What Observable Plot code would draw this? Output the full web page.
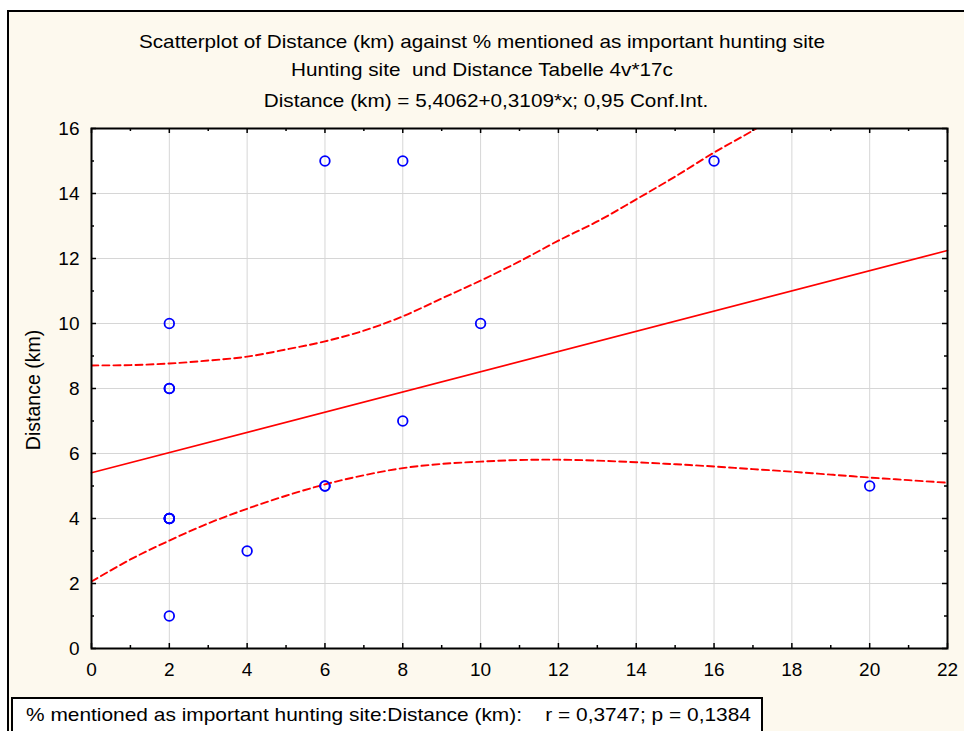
<!DOCTYPE html>
<html><head><meta charset="utf-8">
<script src="https://cdn.jsdelivr.net/npm/d3@7"></script>
<script src="https://cdn.jsdelivr.net/npm/@observablehq/plot@0.6"></script>
<style>
body{margin:0;background:#fff;font-family:"Liberation Sans",Arial,sans-serif;}
#wrap{position:relative;width:964px;height:731px;overflow:hidden;}
#frame{position:absolute;left:7px;top:10px;width:980px;height:760px;background:#fdf9ee;border-left:2px solid #000;border-top:2px solid #000;}
.t{position:absolute;left:0;width:964px;text-align:center;font-size:19px;color:#000;line-height:1;white-space:pre;transform:scaleX(1.09);transform-origin:482px 0;}
#chart{position:absolute;left:0;top:0;}
#ylab{position:absolute;left:33px;top:390px;transform:translate(-50%,-50%) rotate(-90deg);font-size:19.5px;white-space:nowrap;}
#cap{position:absolute;left:11px;top:697px;width:752px;height:50px;background:#fff;border:2px solid #000;box-sizing:border-box;}
#cap span{position:absolute;left:13px;top:5px;font-size:19px;white-space:pre;transform:scaleX(1.1);transform-origin:0 0;}
</style></head>
<body>
<div id="wrap">
  <div id="frame"></div>
  <div class="t" id="t1" style="top:32px">Scatterplot of Distance (km) against % mentioned as important hunting site</div>
  <div class="t" id="t2" style="top:60px">Hunting site  und Distance Tabelle 4v*17c</div>
  <div class="t" id="t3" style="top:91px;left:4px">Distance (km) = 5,4062+0,3109*x; 0,95 Conf.Int.</div>
  <div id="chart"></div>
  <div id="ylab">Distance (km)</div>
  <div id="cap"><span>% mentioned as important hunting site:Distance (km):    r = 0,3747; p = 0,1384</span></div>
</div>
<script>
// observed points (% mentioned, distance km)
const pointX = [2, 2, 2, 2, 2, 2, 2, 4, 6, 6, 6, 8, 8, 10, 16, 20, 2];
const pointY = [10, 8, 8, 4, 4, 4, 1, 3, 15, 5, 5, 15, 7, 10, 15, 5, 4];

// regression line
const intercept = 5.4062;
const slope = 0.3109;

// 0.95 confidence band
const bandX = [0, 1, 2, 3, 4, 5, 6, 7, 8, 9, 10, 11, 12, 13, 14, 15, 16, 17, 18, 19, 20, 21, 22];
const upperY = [8.71, 8.72, 8.77, 8.86, 8.98, 9.2, 9.45, 9.78, 10.22, 10.77, 11.32, 11.91, 12.55, 13.14, 13.82, 14.52, 15.26, 15.94, 16.7, 17.5, 18.3, 19.1, 19.9];
const lowerY = [2.06, 2.74, 3.32, 3.85, 4.3, 4.7, 5.05, 5.33, 5.55, 5.68, 5.75, 5.8, 5.81, 5.78, 5.73, 5.67, 5.6, 5.52, 5.44, 5.35, 5.26, 5.18, 5.1];

// ticks
const xTicks = [0, 2, 4, 6, 8, 10, 12, 14, 16, 18, 20, 22];
const xMinor = [1, 3, 5, 7, 9, 11, 13, 15, 17, 19, 21];
const yTicks = [0, 2, 4, 6, 8, 10, 12, 14, 16];
const yMinor = [1, 3, 5, 7, 9, 11, 13, 15];

const W = 964, H = 731, mL = 91, mR = 17, mT = 128, mB = 83;
const pW = W - mL - mR, pH = H - mT - mB;

const points = pointX.map((x, i) => ({x, y: pointY[i]}));
const upper = bandX.map((x, i) => ({x, y: upperY[i]}));
const lower = bandX.map((x, i) => ({x, y: lowerY[i]}));
const xDomain = [0, 22];
const fit = xDomain.map(x => ({x, y: intercept + slope * x}));

const red = "#ff0000";
const chart = Plot.plot({
  width: W, height: H,
  marginLeft: mL, marginRight: mR, marginTop: mT, marginBottom: mB,
  style: {background: "transparent", fontFamily: "Liberation Sans, Arial, sans-serif", fontSize: "19px", color: "#000"},
  x: {domain: xDomain},
  y: {domain: [0, 16]},
  marks: [
    Plot.frame({fill: "white", stroke: null}),
    Plot.gridX(xTicks, {stroke: "#d6d6d6", strokeOpacity: 1, strokeWidth: 1}),
    Plot.gridY(yTicks, {stroke: "#d6d6d6", strokeOpacity: 1, strokeWidth: 1}),
    Plot.line(upper, {x: "x", y: "y", stroke: red, strokeWidth: 1.9, strokeDasharray: "7,4", curve: "catmull-rom", clip: true}),
    Plot.line(lower, {x: "x", y: "y", stroke: red, strokeWidth: 1.9, strokeDasharray: "7,4", curve: "catmull-rom", clip: true}),
    Plot.line(fit, {x: "x", y: "y", stroke: red, strokeWidth: 1.7}),
    Plot.dot(points, {x: "x", y: "y", r: 4.8, stroke: "#0000ff", strokeWidth: 1.8, fill: "none"}),
    Plot.frame({stroke: "#000", strokeWidth: 2}),
    // inward ticks
    Plot.tickX(xTicks, {x: d => d, insetTop: pH - 5, stroke: "#000", strokeWidth: 1.5}),
    Plot.tickX(xTicks, {x: d => d, insetBottom: pH - 5, stroke: "#000", strokeWidth: 1.5}),
    Plot.tickX(xMinor, {x: d => d, insetTop: pH - 3, stroke: "#000", strokeWidth: 1.5}),
    Plot.tickX(xMinor, {x: d => d, insetBottom: pH - 3, stroke: "#000", strokeWidth: 1.5}),
    Plot.tickY(yTicks, {y: d => d, insetRight: pW - 5, stroke: "#000", strokeWidth: 1.5}),
    Plot.tickY(yTicks, {y: d => d, insetLeft: pW - 5, stroke: "#000", strokeWidth: 1.5}),
    Plot.tickY(yMinor, {y: d => d, insetRight: pW - 3, stroke: "#000", strokeWidth: 1.5}),
    Plot.tickY(yMinor, {y: d => d, insetLeft: pW - 3, stroke: "#000", strokeWidth: 1.5}),
    Plot.axisX({ticks: xTicks, tickSize: 0, tickPadding: 14, label: null, fontSize: 19, tickFormat: d => String(d)}),
    Plot.axisY({ticks: yTicks, tickSize: 0, tickPadding: 12, label: null, fontSize: 19, tickFormat: d => String(d)})
  ]
});
document.getElementById("chart").appendChild(chart);
</script>
</body></html>
